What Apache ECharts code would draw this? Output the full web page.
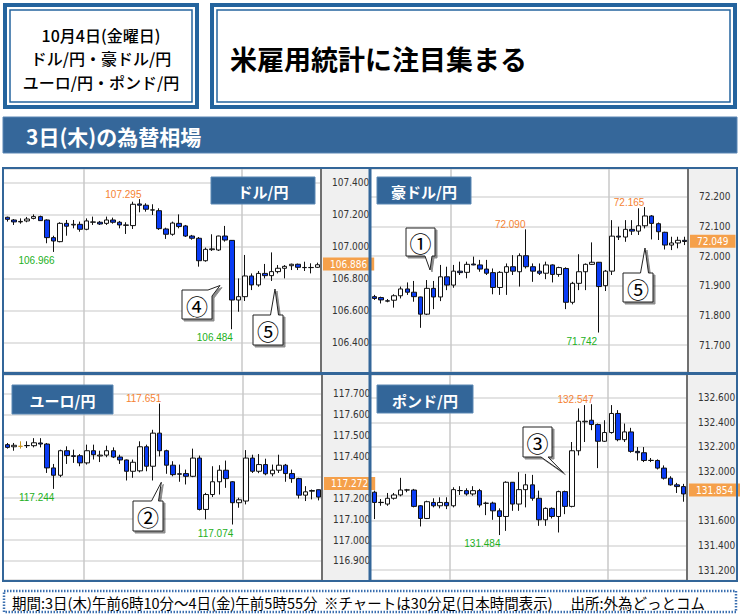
<!DOCTYPE html>
<html><head><meta charset="utf-8">
<script src="https://cdn.jsdelivr.net/npm/echarts@6/dist/echarts.min.js"></script>
<style>html,body{margin:0;padding:0;background:#fff}#c{width:740px;height:615px}</style>
</head><body><div id="c"></div>
<script>
// ---------- DATA ----------
const categories = ['06:00','06:30','07:00','07:30','08:00','08:30','09:00','09:30','10:00','10:30','11:00','11:30',
 '12:00','12:30','13:00','13:30','14:00','14:30','15:00','15:30','16:00','16:30','17:00','17:30',
 '18:00','18:30','19:00','19:30','20:00','20:30','21:00','21:30','22:00','22:30','23:00','23:30',
 '00:00','00:30','01:00','01:30','02:00','02:30','03:00','03:30','04:00','04:30','05:00','05:30'];

// [open, close, low, high]
const usdjpy = [
[107.182,107.169,107.155,107.186],[107.165,107.153,107.134,107.171],[107.153,107.156,107.142,107.175],[107.159,107.171,107.151,107.184],
[107.175,107.186,107.169,107.200],[107.186,107.161,107.159,107.192],[107.165,107.055,107.020,107.169],[107.055,107.034,106.966,107.067],
[107.030,107.144,107.026,107.151],[107.144,107.126,107.067,107.165],[107.134,107.138,107.113,107.165],[107.138,107.107,107.092,107.155],
[107.107,107.159,107.101,107.175],[107.151,107.153,107.134,107.186],[107.151,107.140,107.134,107.159],[107.144,107.165,107.134,107.186],
[107.165,107.151,107.142,107.180],[107.151,107.134,107.113,107.159],[107.134,107.132,107.078,107.151],[107.130,107.263,107.109,107.279],
[107.265,107.257,107.213,107.295],[107.257,107.232,107.217,107.269],[107.228,107.227,107.196,107.263],[107.223,107.111,107.103,107.238],
[107.109,107.076,107.047,107.117],[107.076,107.146,107.067,107.155],[107.144,107.124,107.113,107.200],[107.128,107.065,107.059,107.134],
[107.065,107.051,107.042,107.072],[107.051,106.911,106.874,107.059],[106.911,106.982,106.905,106.993],[106.980,106.985,106.972,107.076],
[106.978,107.065,106.972,107.067],[107.065,107.040,107.030,107.128],[107.038,106.666,106.484,107.040],[106.666,106.687,106.593,106.801],
[106.687,106.816,106.660,106.947],[106.816,106.760,106.728,106.832],[106.760,106.832,106.749,106.847],[106.832,106.818,106.801,106.891],
[106.818,106.843,106.785,106.963],[106.843,106.864,106.832,106.884],[106.864,106.876,106.801,106.884],[106.880,106.889,106.853,106.893],
[106.889,106.870,106.853,106.893],[106.869,106.868,106.847,106.905],[106.868,106.869,106.832,106.895],[106.870,106.886,106.866,106.899]];

const audjpy = [
[71.863,71.857,71.852,71.869],[71.860,71.852,71.840,71.863],[71.849,71.848,71.844,71.855],[71.851,71.866,71.826,71.871],
[71.866,71.889,71.857,71.897],[71.889,71.878,71.869,71.911],[71.878,71.863,71.846,71.916],[71.862,71.804,71.758,71.863],
[71.804,71.891,71.801,71.919],[71.891,71.862,71.821,71.916],[71.862,71.930,71.848,71.970],[71.930,71.902,71.885,71.964],
[71.902,71.949,71.893,71.970],[71.949,71.944,71.936,71.981],[71.945,71.972,71.925,71.981],[71.973,71.970,71.969,71.998],
[71.970,71.956,71.947,71.987],[71.956,71.942,71.936,71.987],[71.944,71.894,71.871,71.958],[71.894,71.945,71.869,71.949],
[71.945,71.964,71.869,71.975],[71.964,71.949,71.936,72.003],[71.947,72.001,71.897,72.009],[72.001,71.964,71.958,72.090],
[71.964,71.949,71.913,71.975],[71.949,71.942,71.936,71.975],[71.942,71.970,71.922,71.981],[71.970,71.938,71.911,71.972],
[71.938,71.961,71.930,71.964],[71.958,71.844,71.821,71.962],[71.844,71.908,71.837,71.913],[71.908,71.947,71.885,72.006],
[71.947,71.972,71.885,71.975],[71.972,71.979,71.970,72.046],[71.979,71.897,71.742,71.980],[71.900,71.949,71.882,71.953],
[71.949,72.067,71.936,72.121],[72.067,72.064,72.054,72.099],[72.064,72.090,72.048,72.121],[72.090,72.084,72.071,72.121],
[72.084,72.102,72.071,72.161],[72.102,72.135,72.093,72.165],[72.135,72.110,72.056,72.138],[72.109,72.082,72.054,72.113],
[72.080,72.037,72.022,72.082],[72.037,72.044,72.020,72.065],[72.044,72.053,72.026,72.065],[72.053,72.049,72.037,72.065]];

const eurjpy = [
[117.455,117.442,117.436,117.463],[117.445,117.452,117.426,117.463],[117.447,117.447,117.436,117.471],[117.450,117.451,117.439,117.471],
[117.450,117.464,117.442,117.486],[117.463,117.458,117.442,117.486],[117.458,117.344,117.320,117.463],[117.344,117.309,117.244,117.363],
[117.309,117.426,117.300,117.431],[117.426,117.403,117.363,117.447],[117.402,117.399,117.368,117.431],[117.402,117.368,117.352,117.410],
[117.368,117.426,117.360,117.455],[117.426,117.407,117.384,117.455],[117.401,117.405,117.372,117.426],[117.405,117.426,117.395,117.450],
[117.426,117.396,117.391,117.442],[117.396,117.382,117.363,117.407],[117.382,117.328,117.284,117.384],[117.328,117.371,117.297,117.384],
[117.330,117.445,117.323,117.471],[117.445,117.352,117.328,117.455],[117.352,117.510,117.284,117.526],[117.510,117.426,117.399,117.651],
[117.426,117.357,117.316,117.431],[117.357,117.312,117.304,117.376],[117.316,117.314,117.278,117.360],[117.317,117.304,117.265,117.336],
[117.304,117.391,117.300,117.436],[117.391,117.146,117.141,117.403],[117.146,117.217,117.099,117.225],[117.217,117.278,117.205,117.352],
[117.278,117.333,117.217,117.357],[117.333,117.293,117.249,117.379],[117.278,117.178,117.074,117.281],[117.178,117.192,117.154,117.202],
[117.186,117.391,117.170,117.429],[117.391,117.328,117.320,117.407],[117.328,117.360,117.319,117.410],[117.360,117.316,117.309,117.388],
[117.316,117.333,117.304,117.360],[117.333,117.357,117.320,117.407],[117.357,117.317,117.278,117.363],[117.317,117.293,117.273,117.336],
[117.293,117.214,117.198,117.297],[117.214,117.230,117.186,117.257],[117.233,117.236,117.194,117.241],[117.240,117.205,117.189,117.241]];

const gbpjpy = [
[131.832,131.749,131.614,131.845],[131.750,131.748,131.722,131.777],[131.736,131.783,131.722,131.826],[131.783,131.810,131.772,131.826],
[131.810,131.850,131.799,131.949],[131.851,131.850,131.832,131.859],[131.850,131.717,131.709,131.859],[131.722,131.619,131.554,131.728],
[131.619,131.755,131.614,131.763],[131.749,131.722,131.709,131.783],[131.722,131.749,131.701,131.791],[131.749,131.722,131.695,131.791],
[131.722,131.853,131.709,131.872],[131.846,131.845,131.810,131.881],[131.845,131.818,131.804,131.864],[131.818,131.845,131.804,131.881],
[131.845,131.728,131.709,131.859],[131.743,131.742,131.646,131.755],[131.744,131.681,131.608,131.755],[131.681,131.635,131.484,131.701],
[131.635,131.913,131.518,131.921],[131.913,131.736,131.681,131.915],[131.736,131.853,131.681,131.995],[131.853,131.892,131.709,131.981],
[131.892,131.783,131.763,131.973],[131.783,131.608,131.559,131.845],[131.608,131.701,131.559,131.709],[131.701,131.635,131.619,131.709],
[131.635,131.837,131.505,131.845],[131.837,131.717,131.654,131.845],[131.717,132.169,131.709,132.240],[132.169,132.409,132.131,132.513],
[132.404,132.409,132.240,132.540],[132.417,132.382,132.336,132.547],[132.382,132.246,132.028,132.390],[132.246,132.317,132.240,132.417],
[132.317,132.472,132.308,132.540],[132.472,132.259,132.246,132.499],[132.259,132.322,132.240,132.390],[132.322,132.164,132.153,132.355],
[132.164,132.153,132.090,132.199],[132.153,132.090,132.077,132.199],[132.091,132.090,132.077,132.110],[132.090,132.028,132.017,132.099],
[132.028,131.946,131.935,132.050],[131.946,131.892,131.886,131.962],[131.892,131.878,131.826,131.908],[131.878,131.818,131.755,131.900]];

// current price tags
const currentPrices = [106.886, 72.049, 117.272, 131.854];
// high / low annotations: [category index, value, kind]
const usdLabels = [[20,107.295,'hi'],[7,106.966,'lo'],[34,106.484,'lo']];
const audLabels = [[23,72.090,'hi'],[41,72.165,'hi'],[34,71.742,'lo']];
const eurLabels = [[23,117.651,'hi'],[7,117.244,'lo'],[34,117.074,'lo']];
const gbpLabels = [[33,132.547,'hi'],[19,131.484,'lo']];
const tickSteps = [0.2, 0.1, 0.1, 0.2];
const pairNames = ['ドル/円','豪ドル/円','ユーロ/円','ポンド/円'];
const gridLineIdx = [12, 36];

// ---------- LAYOUT ----------
const JP = "'Noto Sans CJK JP','Noto Sans',sans-serif";
const NARROW = "'Liberation Sans Narrow','Arial Narrow','DejaVu Sans Condensed',sans-serif";
const BLUE = '#336699';
const panels = [
  {data: usdjpy, labels: usdLabels, grid:{left:4, top:169, width:317, height:203}, min:106.2173, max:107.4829},
  {data: audjpy, labels: audLabels, grid:{left:371, top:169, width:317, height:203}, min:71.6090, max:72.2934},
  {data: eurjpy, labels: eurLabels, grid:{left:4, top:375, width:318, height:205}, min:116.8093, max:117.7873},
  {data: gbpjpy, labels: gbpLabels, grid:{left:371, top:375, width:316, height:205}, min:131.1190, max:132.7844}
];
const titleBoxes = [[211,177,104,27],[377,177,94,27],[12,385,101,29],[377,385,96,28]];
const axisBg = [[321,169,48,203],[688,169,48,203],[322,375,47,205],[687,375,49,205]];

const grids=[], xAxes=[], yAxes=[], series=[];
panels.forEach((p,i)=>{
  grids.push(Object.assign({containLabel:false}, p.grid));
  xAxes.push({type:'category', gridIndex:i, data:categories, boundaryGap:true,
    axisLine:{show:false}, axisTick:{show:false}, axisLabel:{show:false},
    splitLine:{show:true, interval:(idx)=>gridLineIdx.indexOf(idx)>=0, lineStyle:{color:'#c9c9c9', width:1.5}}});
  const step = tickSteps[i];
  const pxPerUnit = p.grid.height/(p.max-p.min);
  const cur = currentPrices[i];
  yAxes.push({type:'value', gridIndex:i, position:'right', min:p.min, max:p.max, scale:true,
    minInterval:step, maxInterval:step, splitNumber:6,
    axisLine:{show:true, lineStyle:{color:'#707070', width:2}}, axisTick:{show:false},
    axisLabel:{show:true, margin:11, fontSize:10, color:'#333', fontFamily:NARROW, showMinLabel:false, showMaxLabel:false,
      formatter:(v)=>{const r=v/step; if (Math.abs(r-Math.round(r))>1e-6) return '';
        if (Math.abs(v-cur)*pxPerUnit < 11) return '';
        return v.toFixed(3);}},
    splitLine:{show:true, lineStyle:{color:'#dadada', width:1.5}}});
  series.push({type:'candlestick', xAxisIndex:i, yAxisIndex:i, data:p.data, barWidth:5,
    itemStyle:{color:'#ffffff', color0:'#0a3cf5', borderColor:'#111', borderColor0:'#111', borderColorDoji:'#c8961e', borderWidth:1},
    markLine:{silent:true, symbol:'none', animation:false, lineStyle:{width:0, color:'rgba(0,0,0,0)', type:'solid'},
      data:[{yAxis:cur}],
      label:{show:true, position:'end', distance:2, formatter:cur.toFixed(3), opacity:1,
        backgroundColor:'#f5a04a', color:'#ffffff', padding:[2,7,1,7], fontSize:10, fontFamily:NARROW}},
    markPoint:{silent:true, symbol:'circle', symbolSize:0, animation:false,
      data:p.labels.map(l=>({coord:[l[0], l[1]], value:l[1],
        label:{show:true, position:'inside', offset: l[2]==='hi' ? [-16,-5] : [-17,8.5],
          formatter:l[1].toFixed(3), fontSize:10, fontFamily:"'Liberation Sans',Arial,sans-serif",
          color: l[2]==='hi' ? '#f58232' : '#22b022'}}))}
  });
});

// ---------- GRAPHICS ----------
const g = [];
axisBg.forEach(r=>g.push({type:'rect', z:-10, shape:{x:r[0],y:r[1],width:r[2],height:r[3]}, style:{fill:'#f0f0f0'}}));
function dblBox(x,y,w,h){
  g.push({type:'rect', z:50, shape:{x:x,y:y,width:w,height:h}, style:{fill:'#fff', stroke:'#24649e', lineWidth:4}});
  g.push({type:'rect', z:51, shape:{x:x+5,y:y+5,width:w-10,height:h-10}, style:{fill:'none', stroke:'#24649e', lineWidth:1.5}});
}
dblBox(5,5,192,102);
dblBox(212,5,523,102);
function txt(t,x,y,size,opts){
  g.push({type:'text', z:95, style:Object.assign({text:t, x:x, y:y, fill:'#000', font:`${size}px ${JP}`, textAlign:'center', textVerticalAlign:'middle'}, opts||{})});
}
txt('10月4日(金曜日)',101,35,16,{font:`500 16px ${JP}`});
txt('ドル/円・豪ドル/円',101,58,16,{font:`500 16px ${JP}`});
txt('ユーロ/円・ポンド/円',101,82,16,{font:`500 16px ${JP}`});
txt('米雇用統計に注目集まる',230,58,27,{textAlign:'left', font:`bold 27px ${JP}`});
g.push({type:'rect', z:50, shape:{x:3,y:117,width:734,height:36}, style:{fill:'#35679a', stroke:'#5a86b4', lineWidth:1}});
txt('3日(木)の為替相場',26,136,21,{textAlign:'left', fill:'#fff', font:`bold 21px ${JP}`});
g.push({type:'rect', z:80, shape:{x:3,y:168,width:734,height:413}, style:{fill:'none', stroke:BLUE, lineWidth:2}});
g.push({type:'line', z:80, shape:{x1:370,y1:168,x2:370,y2:581}, style:{stroke:BLUE, lineWidth:3}});
g.push({type:'line', z:80, shape:{x1:3,y1:373.5,x2:737,y2:373.5}, style:{stroke:BLUE, lineWidth:3}});
titleBoxes.forEach((b,i)=>{
  g.push({type:'rect', z:70, shape:{x:b[0],y:b[1],width:b[2],height:b[3]}, style:{fill:'#336699', stroke:'#5b87b3', lineWidth:1}});
  txt(pairNames[i], b[0]+b[2]/2, b[1]+b[3]/2+1, 15, {fill:'#fff', font:`bold 15px ${JP}`});
});
function callout(pts, label, cx, cy){
  g.push({type:'polygon', z:75, shape:{points:pts},
    style:{fill:'#fff', stroke:'#222', lineWidth:1, shadowColor:'rgba(0,0,0,0.45)', shadowOffsetX:2, shadowOffsetY:2, shadowBlur:1}});
  txt(label, cx, cy, 22, {font:`22px ${JP}`});
}
callout([[182,290],[208,290],[220,285.5],[212,296],[212,319],[182,319]],'④',197,305);
callout([[253,315],[270.5,315],[275,289],[278.5,315],[283,315],[283,345],[253,345]],'⑤',268,330);
callout([[406,228],[435,228],[435,256],[432,256],[430,270],[425,256],[406,256]],'①',420.5,242);
callout([[623,273],[640.5,273],[645,248],[648.5,273],[653,273],[653,302],[623,302]],'⑤',638,287.5);
callout([[133,501],[151.5,501],[161.3,482.3],[158.5,501],[163,501],[163,531],[133,531]],'②',148,516);
callout([[523,427],[552,427],[552,457],[548,457],[563.3,472.7],[541,457],[523,457]],'③',537.5,442);
g.push({type:'rect', z:50, shape:{x:4,y:591,width:732,height:21}, style:{fill:'#fff', stroke:'#3a6fb0', lineWidth:2.5, lineDash:[1.5,1.5]}});
txt('期間:3日(木)午前6時10分～4日(金)午前5時55分  ※チャートは30分足(日本時間表示)　 出所:外為どっとコム',12,602,14.5,{textAlign:'left', font:`14.5px ${JP}`});

const chart = echarts.init(document.getElementById('c'), null, {renderer:'svg', width:740, height:615});
chart.setOption({
  animation:false,
  backgroundColor:'#fff',
  grid:grids, xAxis:xAxes, yAxis:yAxes, series:series,
  graphic:{elements:g}
});
</script></body></html>
